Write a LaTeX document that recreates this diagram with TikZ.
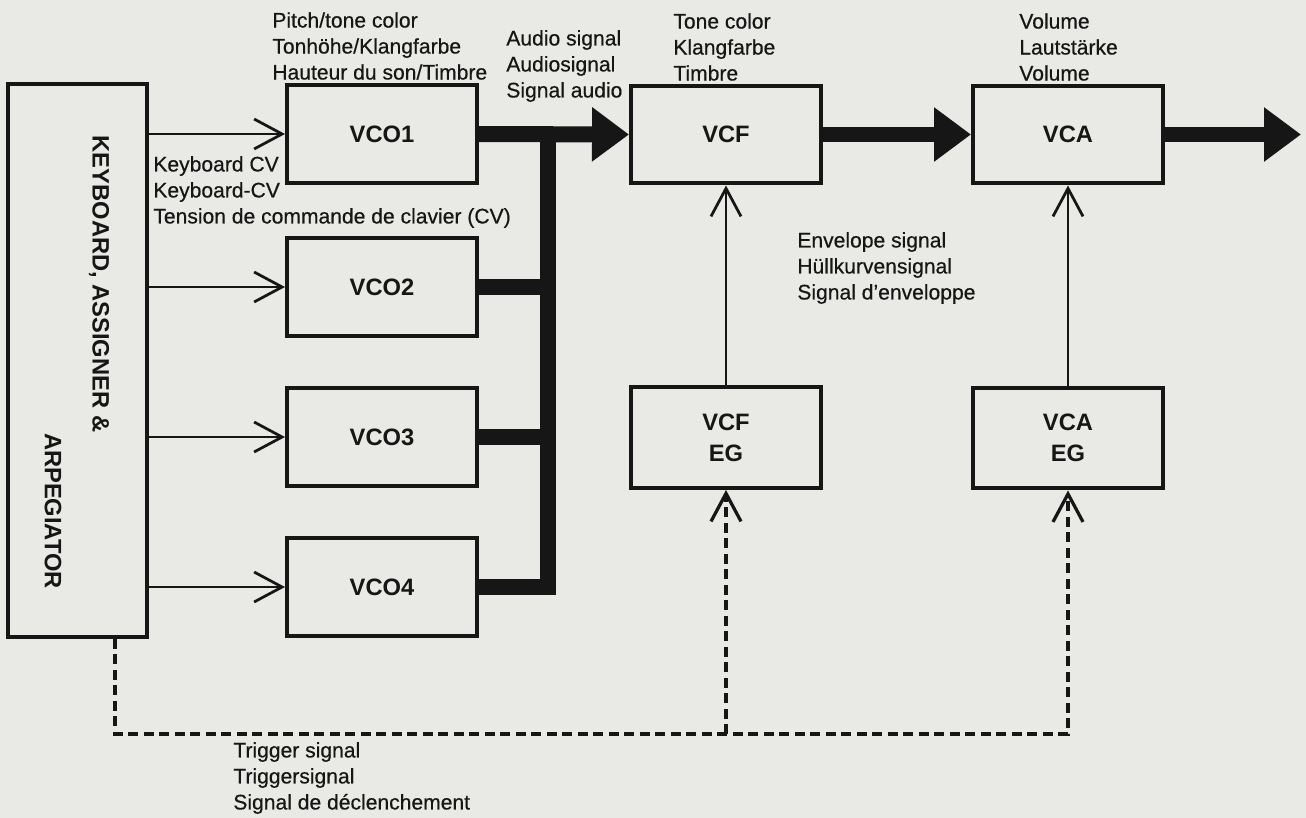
\documentclass[tikz,border=0pt]{standalone}
\usepackage{fontspec}
\setmainfont{Liberation Sans}
\newfontfamily\medfam[BoldFont={Liberation Sans},BoldFeatures={FakeBold=0.5}]{Liberation Sans}
\usetikzlibrary{arrows.meta}
\definecolor{paper}{RGB}{233,233,229}
\definecolor{ink}{RGB}{22,22,22}
\newcommand{\txtfont}{\fontsize{12}{14.8}\selectfont\medfam\bfseries}
\newcommand{\labfont}{\fontsize{13.5}{17.6}\selectfont\bfseries}
\begin{document}
\begin{tikzpicture}[x=0.02cm,y=-0.02cm,
  blk/.style={draw=ink, line width=0.08cm, minimum width=3.8cm, minimum height=1.96cm,
              font=\labfont, text=ink, inner sep=0pt, align=center},
  kbtext/.style={font=\labfont, text=ink, rotate=-90, inner sep=0pt},
  sig/.style={draw=ink, line width=0.055cm, -{Straight Barb[length=0.56cm,width=0.6cm]}},
  bus/.style={draw=ink, line width=0.32cm, line join=miter},
  busarrow/.style={bus, -{Triangle[length=0.74cm,width=1.04cm]}},
  trig/.style={draw=ink, line width=0.065cm, dash pattern=on 0.2cm off 0.11cm,
               -{Straight Barb[length=0.56cm,width=0.6cm]}},
  lab/.style={font=\txtfont, text=ink, align=left, inner sep=0pt, anchor=west}]
\useasboundingbox (0,0) rectangle (1306,818);
\fill[paper] (0,0) rectangle (1306,818);

% blocks
\node[blk, minimum width=2.78cm, minimum height=11.06cm] (kb) at (77.5,360.5) {};
\node[kbtext] (kbt1) at (99,284) {KEYBOARD, ASSIGNER \&};
\node[kbtext] (kbt2) at (53,511) {ARPEGIATOR};

\node[blk] (vco1) at (382,134) {VCO1};
\node[blk] (vco2) at (382,287) {VCO2};
\node[blk] (vco3) at (382,437) {VCO3};
\node[blk] (vco4) at (382,587) {VCO4};
\node[blk] (vcf) at (726,134.5) {VCF};
\node[blk] (vca) at (1068,134.5) {VCA};
\node[blk, minimum height=2.02cm] (vcfeg) at (726,437.5) {VCF\\EG};
\node[blk, minimum height=2.02cm] (vcaeg) at (1068,438) {VCA\\EG};

% labels
\node[lab] (l1) at (272,46) {Pitch/tone color\\Tonhöhe/Klangfarbe\\Hauteur du son/Timbre};
\node[lab] (l2) at (506,66) {Audio signal\\Audiosignal\\Signal audio};
\node[lab] (l3) at (673,47) {Tone color\\Klangfarbe\\Timbre};
\node[lab] (l4) at (1019,47) {Volume\\Lautstärke\\Volume};
\node[lab] (l5) at (153,192) {Keyboard CV\\Keyboard-CV\\Tension de commande de clavier (CV)};
\node[lab] (l6) at (797,268) {Envelope signal\\Hüllkurvensignal\\Signal d’enveloppe};
\node[lab] (l7) at (233,778) {Trigger signal\\Triggersignal\\Signal de déclenchement};

% keyboard CV arrows
\foreach \v in {vco1,vco2,vco3,vco4}
  \draw[sig] (kb.east |- \v.west) -- (\v.west);

% audio bus
\coordinate (j) at (548,134);
\draw[bus] (vco4.east) -| (j);
\draw[bus] (vco2.east) -- (vco2.east -| j);
\draw[bus] (vco3.east) -- (vco3.east -| j);
\draw[busarrow] (vco1.east) -- (vcf.west);
\draw[busarrow] (vcf.east) -- (vca.west);
\coordinate (out) at (1301,134.5);
\draw[busarrow] (vca.east) -- (out);

% envelope signals
\draw[sig] (vcfeg.north) -- (vcf.south);
\draw[sig] (vcaeg.north) -- (vca.south);

% trigger
\coordinate (tb) at (0,734);
\draw[trig] ([xshift=0.75cm]kb.south) |- (tb -| vcaeg.south) -- (vcaeg.south);
\draw[trig] (tb -| vcfeg.south) -- (vcfeg.south);
\end{tikzpicture}
\end{document}
